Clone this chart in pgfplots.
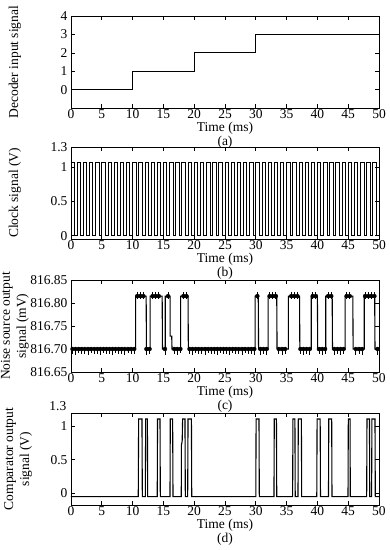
\documentclass[border=0pt]{standalone}
\usepackage{fontspec}
\setmainfont{Liberation Serif}
\usepackage{pgfplots}
\pgfplotsset{compat=1.18}
\begin{document}
\begin{tikzpicture}
\useasboundingbox (-71bp,16bp) rectangle (319bp,-534bp);
\pgfplotsset{
  myax/.style={
    width=308bp, height=92bp, scale only axis,
    anchor=north west,
    xmin=0, xmax=50, xtick={0,5,...,50},
    font=\fontsize{13.5bp}{13bp}\selectfont,
    tick label style={font=\fontsize{13.5bp}{16bp}\selectfont},
    /pgf/number format/assume math mode=true,
    major tick length=4bp,
    tick style={black, line width=0.6bp},
    axis line style={line width=0.9bp},
    xticklabel style={inner sep=1.5bp},
    xlabel style={at={(axis description cs:0.5,0)}, anchor=north, yshift=-14bp, inner sep=0pt, align=center, font=\fontsize{13.5bp}{13.5bp}\selectfont},
    ylabel style={at={(axis description cs:-0.182,0.5)}, anchor=center, align=center, inner sep=0pt, font=\fontsize{13.5bp}{16bp}\selectfont},
    clip mode=individual,
  }
}
% (a)
\begin{axis}[myax, at={(0,0)},
  ymin=-1, ymax=4, ytick={0,1,2,3,4},
  xlabel={Time (ms)\\(a)},
  ylabel={Decoder input signal}]
\addplot[black, line width=1.2bp] coordinates {(0,0)(10,0)(10,1)(20,1)(20,2)(30,2)(30,3)(50,3)};
\end{axis}
% (b)
\begin{axis}[myax, at={(0,-131bp)},
  ymin=-0.05, ymax=1.3, ytick={0,0.5,1,1.3}, yticklabels={0,0.5,1,1.3},
  xlabel={Time (ms)\\(b)},
  ylabel={Clock signal (V)}]
\addplot[black, line width=0.8bp, const plot mark left] coordinates {
(0,1.07)(0.55,0)(1,1.07)(1.55,0)(2,1.07)(2.55,0)(3,1.07)(3.55,0)(4,1.07)(4.55,0)(5,1.07)(5.55,0)(6,1.07)(6.55,0)(7,1.07)(7.55,0)(8,1.07)(8.55,0)(9,1.07)(9.55,0)(10,1.07)(10.55,0)(11,1.07)(11.55,0)(12,1.07)(12.55,0)(13,1.07)(13.55,0)(14,1.07)(14.55,0)(15,1.07)(15.55,0)(16,1.07)(16.55,0)(17,1.07)(17.55,0)(18,1.07)(18.55,0)(19,1.07)(19.55,0)(20,1.07)(20.55,0)(21,1.07)(21.55,0)(22,1.07)(22.55,0)(23,1.07)(23.55,0)(24,1.07)(24.55,0)(25,1.07)(25.55,0)(26,1.07)(26.55,0)(27,1.07)(27.55,0)(28,1.07)(28.55,0)(29,1.07)(29.55,0)(30,1.07)(30.55,0)(31,1.07)(31.55,0)(32,1.07)(32.55,0)(33,1.07)(33.55,0)(34,1.07)(34.55,0)(35,1.07)(35.55,0)(36,1.07)(36.55,0)(37,1.07)(37.55,0)(38,1.07)(38.55,0)(39,1.07)(39.55,0)(40,1.07)(40.55,0)(41,1.07)(41.55,0)(42,1.07)(42.55,0)(43,1.07)(43.55,0)(44,1.07)(44.55,0)(45,1.07)(45.55,0)(46,1.07)(46.55,0)(47,1.07)(47.55,0)(48,1.07)(48.55,0)(49,1.07)(49.55,0)(50,0)};
\end{axis}
% (c)
\begin{axis}[myax, at={(0,-264bp)},
  ymin=816.65, ymax=816.85, ytick={816.65,816.7,816.75,816.8,816.85},
  yticklabel style={/pgf/number format/.cd, fixed, fixed zerofill, precision=2, 1000 sep={}},
  xlabel={Time (ms)\\(c)},
  ylabel={Noise source output\\signal (mV)}]
\addplot[black, line width=1.1bp] coordinates {
(0,816.70)(10.5,816.70)(10.5,816.815)(12.2,816.815)(12.25,816.70)(12.85,816.70)(12.85,816.815)(14.8,816.815)(14.85,816.70)(15.3,816.70)(15.3,816.815)(16.1,816.815)(16.1,816.728)(16.35,816.728)(16.4,816.70)(17.8,816.70)(17.8,816.815)(19.0,816.815)(19.05,816.70)(29.9,816.70)(29.9,816.815)(30.4,816.815)(30.45,816.70)(32.0,816.70)(32.0,816.815)(33.4,816.815)(33.45,816.70)(35.3,816.70)(35.3,816.815)(37.1,816.815)(37.15,816.70)(39.0,816.70)(39.0,816.815)(40.0,816.815)(40.05,816.70)(41.35,816.70)(41.35,816.815)(42.4,816.815)(42.45,816.70)(44.5,816.70)(44.5,816.815)(45.75,816.815)(45.8,816.70)(47.6,816.70)(47.6,816.815)(49.3,816.815)(49.35,816.70)(50,816.70)};
\addplot[black, only marks, mark=none, error bars/.cd, y dir=both, y explicit, error mark=none, error bar style={black, line width=0.8bp}]
table[x=t, y=y, y error plus=ep, y error minus=em] {
t y ep em
0.25 816.70 0.005 0.010
0.75 816.70 0.005 0.012
1.25 816.70 0.005 0.009
1.75 816.70 0.005 0.011
2.25 816.70 0.005 0.010
2.75 816.70 0.005 0.012
3.25 816.70 0.005 0.009
3.75 816.70 0.005 0.011
4.25 816.70 0.005 0.010
4.75 816.70 0.005 0.013
5.25 816.70 0.005 0.009
5.75 816.70 0.005 0.011
6.25 816.70 0.005 0.010
6.75 816.70 0.005 0.012
7.25 816.70 0.005 0.009
7.75 816.70 0.005 0.011
8.25 816.70 0.005 0.010
8.75 816.70 0.005 0.012
9.25 816.70 0.005 0.009
9.75 816.70 0.005 0.011
10.25 816.70 0.005 0.010
10.75 816.815 0.008 0.006
11.25 816.815 0.008 0.006
11.75 816.815 0.008 0.006
12.25 816.70 0.004 0.012
12.75 816.70 0.004 0.010
13.25 816.815 0.008 0.006
13.75 816.815 0.008 0.006
14.25 816.815 0.008 0.006
15.25 816.70 0.004 0.012
15.75 816.815 0.008 0.006
16.75 816.70 0.005 0.010
17.25 816.70 0.005 0.013
17.75 816.70 0.005 0.009
18.25 816.815 0.008 0.006
18.75 816.815 0.008 0.006
19.25 816.70 0.005 0.010
19.75 816.70 0.005 0.012
20.25 816.70 0.005 0.009
20.75 816.70 0.005 0.011
21.25 816.70 0.005 0.010
21.75 816.70 0.005 0.012
22.25 816.70 0.005 0.009
22.75 816.70 0.005 0.011
23.25 816.70 0.005 0.010
23.75 816.70 0.005 0.012
24.25 816.70 0.005 0.009
24.75 816.70 0.005 0.011
25.25 816.70 0.005 0.010
25.75 816.70 0.005 0.012
26.25 816.70 0.005 0.009
26.75 816.70 0.005 0.011
27.25 816.70 0.005 0.010
27.75 816.70 0.005 0.012
28.25 816.70 0.005 0.009
28.75 816.70 0.005 0.011
29.25 816.70 0.005 0.010
29.75 816.70 0.005 0.012
30.25 816.815 0.008 0.006
30.75 816.70 0.005 0.012
31.25 816.70 0.005 0.010
31.75 816.70 0.005 0.013
32.25 816.815 0.008 0.006
32.75 816.815 0.008 0.006
33.25 816.815 0.008 0.006
33.75 816.70 0.005 0.011
34.25 816.70 0.005 0.013
34.75 816.70 0.005 0.010
35.75 816.815 0.008 0.006
36.25 816.815 0.008 0.006
36.75 816.815 0.008 0.006
37.25 816.70 0.005 0.011
37.75 816.70 0.005 0.013
38.25 816.70 0.005 0.010
38.75 816.70 0.005 0.012
39.25 816.815 0.008 0.006
39.75 816.815 0.008 0.006
40.25 816.70 0.005 0.011
40.75 816.70 0.005 0.013
41.25 816.70 0.005 0.010
41.75 816.815 0.008 0.006
42.25 816.815 0.008 0.006
42.75 816.70 0.005 0.012
43.25 816.70 0.005 0.010
43.75 816.70 0.005 0.013
44.25 816.70 0.005 0.011
44.75 816.815 0.008 0.006
45.25 816.815 0.008 0.006
46.25 816.70 0.005 0.012
46.75 816.70 0.005 0.010
47.25 816.70 0.005 0.013
47.75 816.815 0.008 0.006
48.25 816.815 0.008 0.006
48.75 816.815 0.008 0.006
49.25 816.815 0.008 0.006
49.75 816.70 0.005 0.012
};
\end{axis}
% (d)
\begin{axis}[myax, at={(0,-397bp)},
  ymin=-0.18, ymax=1.2, ytick={0,0.5,1}, yticklabels={0,0.5,1},
  xlabel={Time (ms)\\(d)},
  ylabel style={at={(axis description cs:-0.172,0.5)}},
  ylabel={Comparator output\\signal (V)}]
\addplot[black, line width=1.1bp] coordinates {
(0,-0.055)(10.92,-0.055)(10.98,1.11)(11.52,1.11)(11.58,-0.055)
(12.07,-0.055)(12.12,1.11)(12.4,1.11)(12.45,-0.055)
(14.0,-0.055)(14.05,1.11)(14.45,1.11)(14.5,-0.055)
(16.07,-0.055)(16.12,1.11)(16.5,1.11)(16.56,-0.055)
(17.9,-0.055)(17.93,0.72)(18.05,0.78)(18.12,1.11)(18.5,1.11)(18.56,-0.055)
(18.94,-0.055)(19.0,1.11)(19.55,1.11)(19.6,-0.055)
(30.0,-0.055)(30.05,1.11)(30.52,1.11)(30.57,-0.055)
(32.95,-0.055)(33.0,1.11)(33.35,1.11)(33.4,-0.055)
(35.98,-0.055)(36.03,1.11)(36.35,1.11)(36.4,-0.055)
(36.85,-0.055)(36.9,1.11)(37.4,1.11)(37.45,-0.055)
(39.9,-0.055)(39.95,1.11)(40.45,1.11)(40.5,-0.055)
(41.8,-0.055)(41.85,1.11)(42.32,1.11)(42.37,-0.055)
(44.97,-0.055)(45.02,1.11)(45.3,1.11)(45.34,-0.055)
(48.0,-0.055)(48.05,1.11)(48.45,1.11)(48.5,-0.055)
(48.8,-0.055)(48.85,1.11)(49.35,1.11)(49.4,-0.055)
(50,-0.055)};
\node[anchor=east, inner sep=0pt, xshift=-4.5bp, yshift=7bp, font=\fontsize{13.5bp}{16bp}\selectfont] at (axis description cs:0,1) {1.3};
\end{axis}
\end{tikzpicture}
\end{document}
